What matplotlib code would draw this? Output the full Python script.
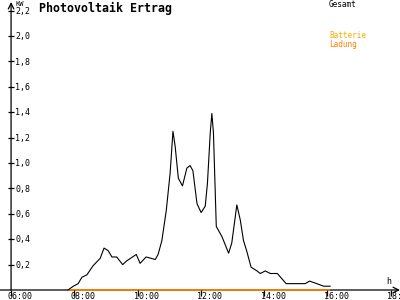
import matplotlib
matplotlib.use("Agg")
import matplotlib.pyplot as plt

# Gesamt-Leistung (kW) ueber Uhrzeit (h)
zeit = [7.80, 7.97, 8.12, 8.24, 8.40, 8.59, 8.82, 8.94, 9.07, 9.19, 9.34, 9.53, 9.66,
        9.96, 10.08, 10.27, 10.42, 10.56, 10.65, 10.77, 10.91, 11.03, 11.12, 11.19,
        11.29, 11.42, 11.56, 11.66, 11.75, 11.88, 12.01, 12.14, 12.21, 12.30, 12.35,
        12.40, 12.49, 12.67, 12.88, 12.98, 13.14, 13.25, 13.35, 13.46, 13.59, 13.78,
        13.88, 14.04, 14.20, 14.42, 14.70, 14.92, 15.30, 15.44, 15.67, 15.88, 16.04, 16.09]
gesamt = [0.00, 0.03, 0.05, 0.10, 0.12, 0.19, 0.25, 0.33, 0.31, 0.26, 0.26, 0.20, 0.23,
          0.28, 0.21, 0.26, 0.25, 0.24, 0.28, 0.39, 0.63, 0.92, 1.25, 1.13,
          0.88, 0.82, 0.96, 0.98, 0.94, 0.68, 0.61, 0.66, 0.84, 1.24, 1.39,
          1.24, 0.50, 0.42, 0.29, 0.37, 0.67, 0.55, 0.39, 0.30, 0.18, 0.15,
          0.13, 0.15, 0.13, 0.13, 0.05, 0.05, 0.05, 0.07, 0.05, 0.03, 0.03, 0.03]

# Batterie-Ladung (kW)
zeit_bat = [7.80, 16.09]
ladung = [0.0, 0.0]

xticks = [6, 8, 10, 12, 14, 16, 18]
xlabels = ["06:00", "08:00", "10:00", "12:00", "14:00", "16:00", "18:00"]
yticks = [0.2, 0.4, 0.6, 0.8, 1.0, 1.2, 1.4, 1.6, 1.8, 2.0, 2.2]
ylabels = ["0,2", "0,4", "0,6", "0,8", "1,0", "1,2", "1,4", "1,6", "1,8", "2,0", "2,2"]

mono = "DejaVu Sans Mono"
fig = plt.figure(figsize=(4, 3), dpi=100)
ax = fig.add_axes([0, 10 / 300, 1, 288 / 300])
ax.set_xlim(5.65, 18.3)
ax.set_ylim(0, 2.268)

for s in ["top", "right", "left", "bottom"]:
    ax.spines[s].set_visible(False)
ax.set_xticks([])
ax.set_yticks([])

# Achsen mit Pfeilen
ax.annotate("", xy=(1.0, 0), xytext=(0, 0), xycoords=("axes fraction", "data"),
            arrowprops=dict(arrowstyle="->", color="black", lw=0.9, shrinkA=0, shrinkB=0),
            annotation_clip=False)
ax.annotate("", xy=(6, 1.0), xytext=(6, 0), xycoords=("data", "axes fraction"),
            arrowprops=dict(arrowstyle="->", color="black", lw=0.9, shrinkA=0, shrinkB=0),
            annotation_clip=False)

ax.plot(zeit_bat, ladung, color="#ff8000", lw=1.3, zorder=5, clip_on=False,
        solid_capstyle="butt")
ax.plot(zeit, gesamt, color="black", lw=0.8, zorder=6, clip_on=False)

# Ticks und Beschriftungen
ax.plot(xticks, [0] * len(xticks), ls="none", marker=3, ms=4, color="black", mew=0.9,
        clip_on=False, zorder=7)
ax.plot([6] * len(yticks), yticks, ls="none", marker="_", ms=5, color="black", mew=0.9,
        clip_on=False)
for x, lab in zip(xticks, xlabels):
    ax.annotate(lab, (x, 0), xytext=(-2.5, -1.2), textcoords="offset points",
                ha="left", va="top", fontsize=6, family=mono, annotation_clip=False)
for y, lab in zip(yticks, ylabels):
    ax.annotate(lab, (6, y), xytext=(3, -0.5), textcoords="offset points",
                ha="left", va="center", fontsize=6, family=mono)

fig.text(15 / 400, 1 - 1 / 300, "KW", fontsize=5, family=mono, va="top", ha="left")
fig.text(39 / 400, 1 - 8 / 300, "Photovoltaik Ertrag", fontsize=8.4, family=mono,
         fontweight="bold", va="center", ha="left")
fig.text(329 / 400, 1 - 4.5 / 300, "Gesamt", fontsize=5.6, family=mono, va="center", ha="left")
fig.text(329 / 400, 1 - 36 / 300, "Batterie", fontsize=5.6, family=mono, color="#ffaa00",
         va="center", ha="left")
fig.text(329 / 400, 1 - 44 / 300, "Ladung", fontsize=5.6, family=mono, color="#ff8000",
         va="center", ha="left")
fig.text(386 / 400, 1 - 282 / 300, "h", fontsize=6, family=mono, va="center", ha="left")

fig.savefig("out.png", dpi=100, facecolor="white")
